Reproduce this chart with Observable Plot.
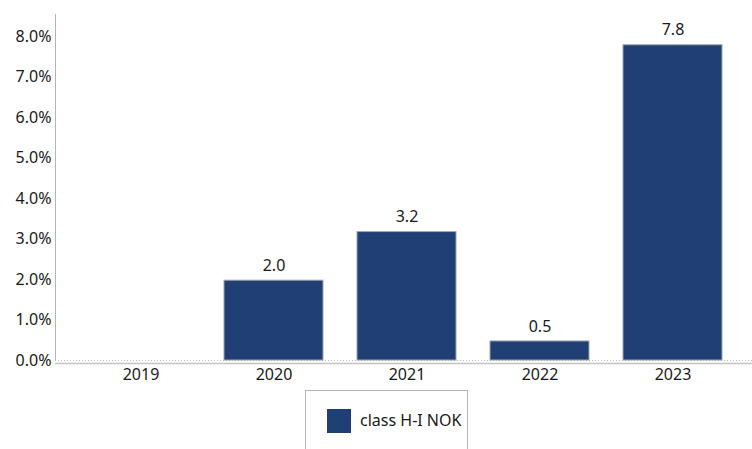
<!DOCTYPE html>
<html>
<head>
<meta charset="utf-8">
<script src="https://cdn.jsdelivr.net/npm/d3@7"></script>
<script src="https://cdn.jsdelivr.net/npm/@observablehq/plot@0.6"></script>
<style>
  html, body { margin: 0; padding: 0; background: #fff; }
  body { width: 752px; height: 449px; overflow: hidden; position: relative; font-family: "Noto Sans", "Open Sans", sans-serif; }
  #chart { position: absolute; left: 0; top: 0; }
  #legend { position: absolute; left: 305px; top: 390px; width: 163px; height: 80px; border: 1px solid #b4b4b4; box-sizing: border-box; }
  #legend .sw { position: absolute; left: 21px; top: 18px; width: 24px; height: 24px; background: #203f74; }
  #legend .lb { position: absolute; left: 54px; top: 17px; line-height: 24px; font-size: 16px; color: #1a1a1a; }
</style>
</head>
<body>
<div id="chart"></div>
<div id="legend"><div class="sw"></div><div class="lb"></div></div>
<script>
const years = ["2019", "2020", "2021", "2022", "2023"];
const values = [null, 1.97, 3.17, 0.47, 7.78];
const yTicks = [0, 1, 2, 3, 4, 5, 6, 7, 8];
const seriesName = "class H-I NOK";
const barColor = "#203f74";

const data = years.map((year, i) => ({year, value: values[i]})).filter(d => d.value != null);

document.querySelector("#legend .lb").textContent = seriesName;

const chart = Plot.plot({
  width: 752,
  height: 390,
  marginLeft: 55,
  marginRight: 0,
  marginTop: 14,
  marginBottom: 30,
  style: {fontFamily: "'Noto Sans', 'Open Sans', sans-serif", fontSize: "16px", color: "#1a1a1a", background: "#fff"},
  x: {domain: years, range: [58, 755], paddingInner: 0.256, paddingOuter: 0.248, label: null},
  y: {domain: [0, 8.54], label: null},
  marks: [
    Plot.frame({anchor: "left", stroke: "#b4b4b4"}),
    Plot.ruleY([0], {stroke: "#bbbbbb", strokeDasharray: "1,2"}),
    Plot.ruleY([0], {stroke: "#c4c4c4", strokeWidth: 1.5, dy: 3}),
    Plot.barY(data, {x: "year", y: "value", fill: barColor, stroke: "#9ea4ae", strokeWidth: 1}),
    Plot.text(data, {x: "year", y: "value", text: d => d.value.toFixed(1), dy: -15, fontSize: 16, fill: "#1a1a1a"}),
    Plot.axisY({ticks: yTicks, tickSize: 0, tickPadding: 4, tickFormat: d => d.toFixed(1) + "%", fontSize: 16, label: null}),
    Plot.axisX({tickSize: 0, tickPadding: 8, fontSize: 16, label: null})
  ]
});
document.getElementById("chart").appendChild(chart);
</script>
</body>
</html>
